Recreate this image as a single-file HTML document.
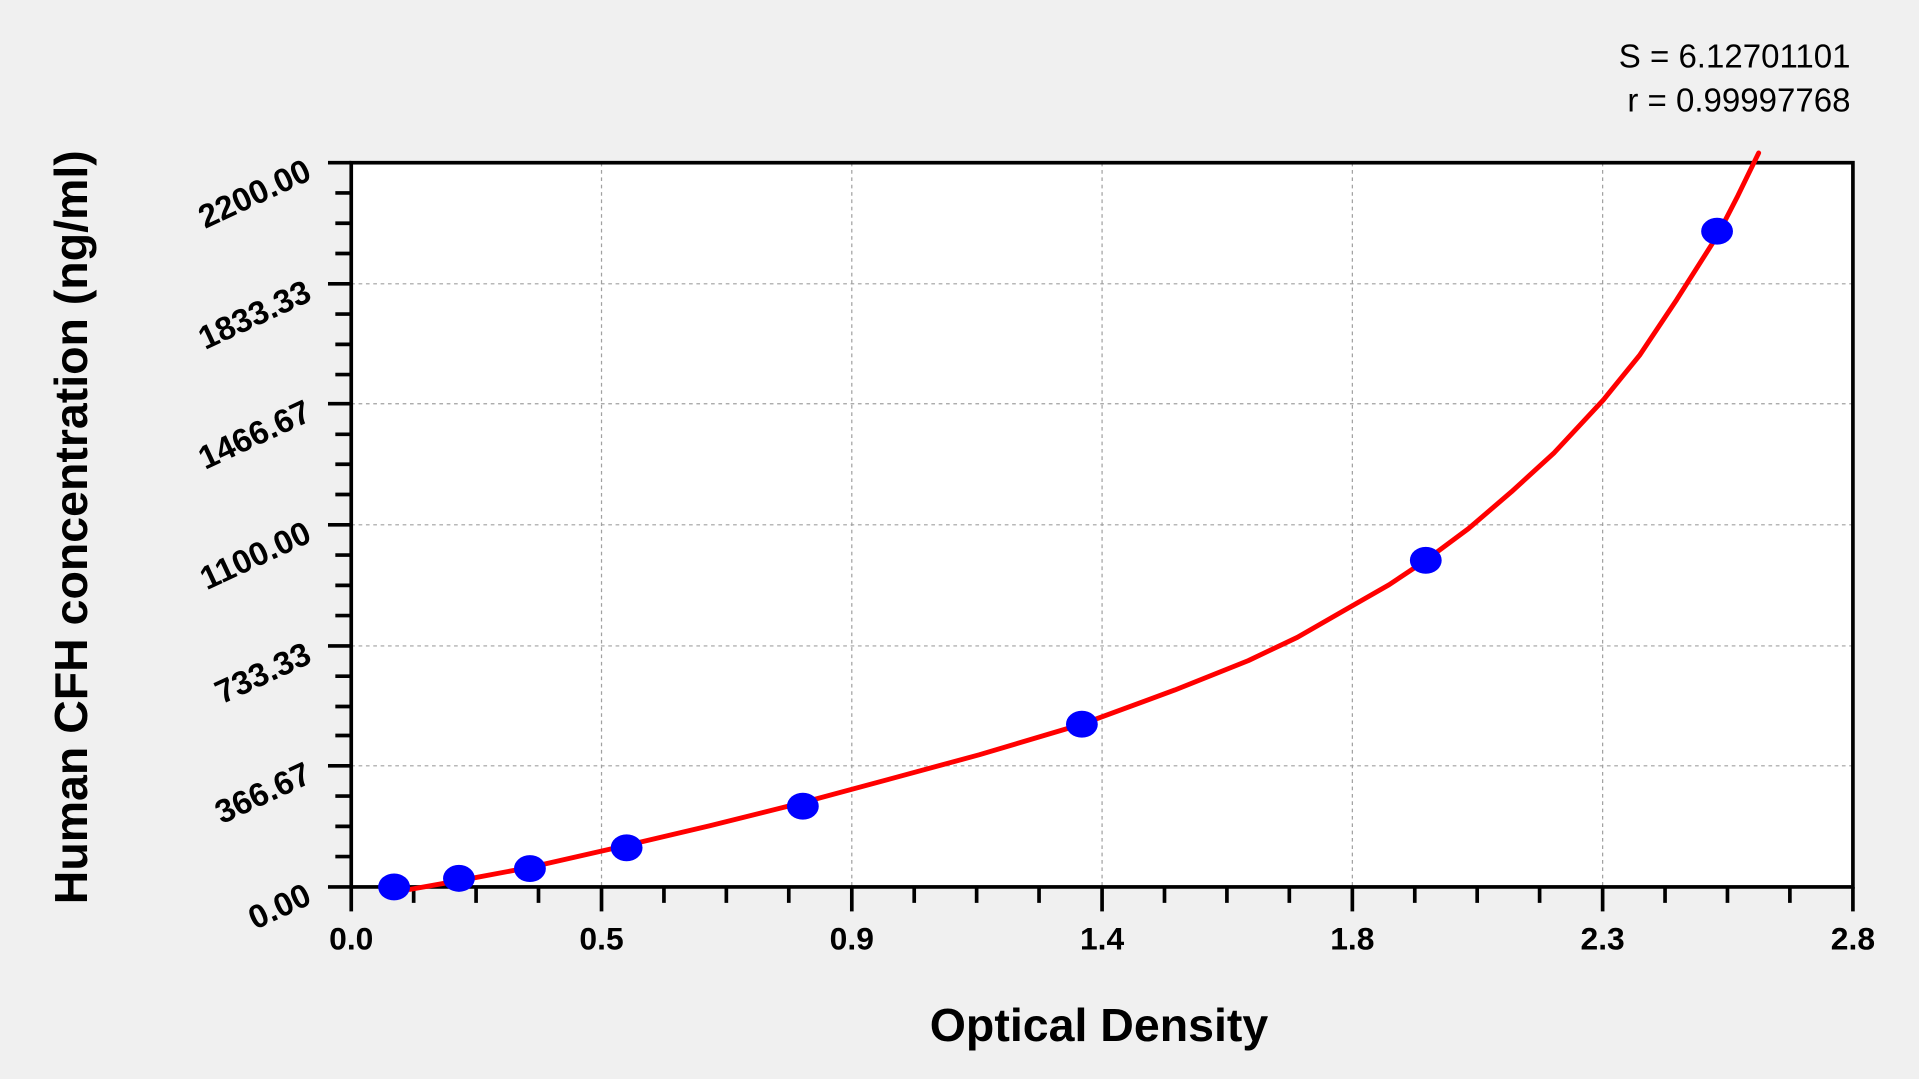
<!DOCTYPE html>
<html><head><meta charset="utf-8"><style>
html,body{margin:0;padding:0;background:#f0f0f0;}
svg{display:block;}
text{font-family:"Liberation Sans",Arial,sans-serif;}
</style></head><body>
<svg width="1919" height="1079" viewBox="0 0 1568 882" preserveAspectRatio="none" xmlns="http://www.w3.org/2000/svg">
<rect x="0" y="0" width="1568" height="882" fill="#f0f0f0"/>
<rect x="287" y="133" width="1227" height="592" fill="#fff"/>
<g stroke="#a0a0a0" stroke-width="1" stroke-dasharray="3,3">
<line x1="491.5" y1="133" x2="491.5" y2="725"/>
<line x1="696" y1="133" x2="696" y2="725"/>
<line x1="900.5" y1="133" x2="900.5" y2="725"/>
<line x1="1105" y1="133" x2="1105" y2="725"/>
<line x1="1309.5" y1="133" x2="1309.5" y2="725"/>
<line x1="287" y1="232" x2="1514" y2="232"/>
<line x1="287" y1="330" x2="1514" y2="330"/>
<line x1="287" y1="429" x2="1514" y2="429"/>
<line x1="287" y1="528" x2="1514" y2="528"/>
<line x1="287" y1="626" x2="1514" y2="626"/>
</g>
<g stroke="#000" stroke-width="3" fill="none">
<rect x="287" y="133" width="1227" height="592"/>
</g>
<g stroke="#000" stroke-width="3">
<line x1="268" y1="133" x2="287" y2="133"/><line x1="268" y1="232" x2="287" y2="232"/>
<line x1="268" y1="330" x2="287" y2="330"/><line x1="268" y1="429" x2="287" y2="429"/>
<line x1="268" y1="528" x2="287" y2="528"/><line x1="268" y1="626" x2="287" y2="626"/>
<line x1="268" y1="725" x2="287" y2="725"/>
<line x1="287" y1="725" x2="287" y2="745"/><line x1="491.5" y1="725" x2="491.5" y2="745"/>
<line x1="696" y1="725" x2="696" y2="745"/><line x1="900.5" y1="725" x2="900.5" y2="745"/>
<line x1="1105" y1="725" x2="1105" y2="745"/><line x1="1309.5" y1="725" x2="1309.5" y2="745"/>
<line x1="1514" y1="725" x2="1514" y2="745"/>
<path d="M274 157.7H287M274 182.5H287M274 207.2H287M274 256.7H287M274 281.5H287M274 306.2H287M274 355H287M274 379.5H287M274 404.2H287M274 453.7H287M274 478.5H287M274 503.2H287M274 552.7H287M274 577.5H287M274 601.2H287M274 650.7H287M274 675.5H287M274 700.2H287"/>
<path d="M338 725V738M389 725V738M440 725V738M542.5 725V738M593.5 725V738M644.5 725V738M747 725V738M798 725V738M849 725V738M951.5 725V738M1002.5 725V738M1053.5 725V738M1156 725V738M1207 725V738M1258 725V738M1360.5 725V738M1411.5 725V738M1462.5 725V738"/>
</g>
<polyline fill="none" stroke="#ff0000" stroke-width="4" stroke-linejoin="round" stroke-linecap="round" points="335,727 380,719 433,709 512,691 580,675 656,656 730,636 800,617 884,592 960,564 1020,540 1060,521 1100,498 1135,478 1165,458 1200,432 1235,402 1270,370 1310,327 1340,290 1370,245 1403,193 1420,160 1437,125"/>
<g fill="#0000ff">
<ellipse cx="322" cy="725" rx="13" ry="11"/>
<ellipse cx="375" cy="718" rx="13" ry="11"/>
<ellipse cx="433" cy="710" rx="13" ry="11"/>
<ellipse cx="512" cy="693" rx="13" ry="11"/>
<ellipse cx="656" cy="659" rx="13" ry="11"/>
<ellipse cx="884" cy="592" rx="13" ry="11"/>
<ellipse cx="1165" cy="458" rx="13" ry="11"/>
<ellipse cx="1403" cy="189" rx="13" ry="11"/>
</g>
<g font-size="27" font-weight="bold" text-anchor="end">
<text transform="translate(256,146) rotate(-25)">2200.00</text>
<text transform="translate(256,245) rotate(-25)">1833.33</text>
<text transform="translate(256,343) rotate(-25)">1466.67</text>
<text transform="translate(256,442) rotate(-25)">1100.00</text>
<text transform="translate(256,541) rotate(-25)">733.33</text>
<text transform="translate(256,639) rotate(-25)">366.67</text>
<text transform="translate(256,738) rotate(-25)">0.00</text>
</g>
<g font-size="26" font-weight="bold" text-anchor="middle">
<text x="287" y="776">0.0</text><text x="491.5" y="776">0.5</text>
<text x="696" y="776">0.9</text><text x="900.5" y="776">1.4</text>
<text x="1105" y="776">1.8</text><text x="1309.5" y="776">2.3</text>
<text x="1514" y="776">2.8</text>
</g>
<text x="898" y="851" font-size="38" font-weight="bold" text-anchor="middle">Optical Density</text>
<text transform="translate(71,431) rotate(-90)" font-size="38" font-weight="bold" text-anchor="middle">Human CFH concentration (ng/ml)</text>
<g font-size="27" text-anchor="end">
<text x="1512" y="55">S = 6.12701101</text>
<text x="1512" y="91">r = 0.99997768</text>
</g>
</svg>
</body></html>
